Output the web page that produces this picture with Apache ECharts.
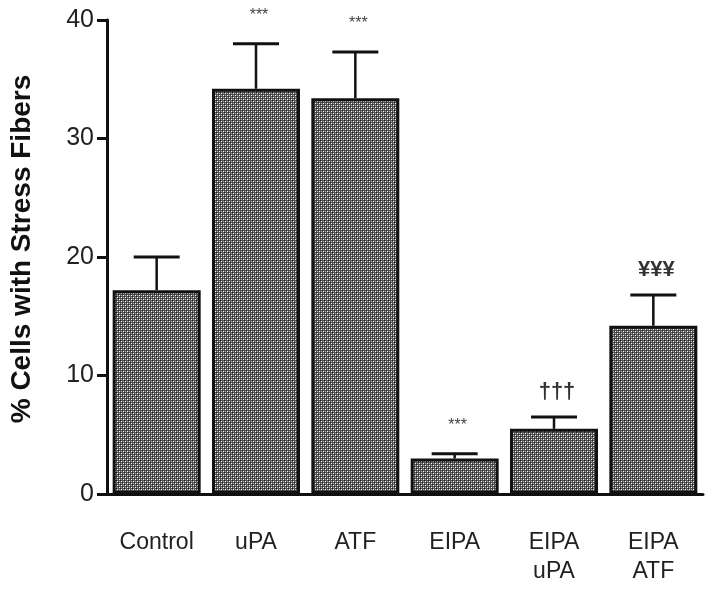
<!DOCTYPE html>
<html>
<head>
<meta charset="utf-8">
<script src="https://cdn.jsdelivr.net/npm/echarts@6/dist/echarts.min.js"></script>
<style>
  html, body { margin: 0; padding: 0; background: #fff; }
  #chart { width: 714px; height: 590px; }
</style>
</head>
<body>
<div id="chart"></div>
<script>
// Chart data
var categories = ['Control', 'uPA', 'ATF', 'EIPA', 'EIPA\nuPA', 'EIPA\nATF'];
var means = [17.2, 34.2, 33.4, 3.0, 5.5, 14.2];
var errors = [2.8, 3.8, 3.9, 0.4, 1.0, 2.6];
var marks = ['', '***', '***', '***', '†††', '¥¥¥'];
var yTicks = [0, 10, 20, 30, 40];

var FONT = "'Liberation Sans', Arial, sans-serif";

// Dotted crosshatch fill used by the bars
function makePattern() {
    var c = document.createElement('canvas');
    c.width = 4;
    c.height = 4;
    var ctx = c.getContext('2d');
    ctx.fillStyle = '#555';
    ctx.fillRect(0, 0, 4, 4);
    ctx.fillStyle = '#222';
    ctx.fillRect(0, 0, 1, 1);
    ctx.fillRect(2, 2, 1, 1);
    ctx.fillStyle = '#a8a8a8';
    ctx.fillRect(3, 1, 1, 1);
    ctx.fillRect(1, 3, 1, 1);
    ctx.fillStyle = '#fff';
    ctx.fillRect(1, 1, 1, 1);
    ctx.fillRect(3, 3, 1, 1);
    return c;
}

var chartDom = document.getElementById('chart');
var chart = echarts.init(chartDom, null, {renderer: 'canvas'});

var errData = means.map(function (m, i) { return [i, m, errors[i]]; });

var option = {
    animation: false,
    grid: {left: 102, right: 11, top: 20, bottom: 96},
    xAxis: {
        type: 'category',
        data: categories,
        axisLine: {lineStyle: {color: '#111', width: 3}},
        axisTick: {alignWithLabel: true, length: 10, lineStyle: {color: '#111', width: 3}},
        axisLabel: {
            margin: 34,
            fontFamily: FONT,
            fontSize: 23,
            lineHeight: 29,
            color: '#222'
        }
    },
    yAxis: {
        type: 'value',
        min: yTicks[0],
        max: yTicks[yTicks.length - 1],
        interval: 10,
        splitLine: {show: false},
        axisLine: {show: true, lineStyle: {color: '#111', width: 3}},
        axisTick: {show: true, length: 10, lineStyle: {color: '#111', width: 3}},
        axisLabel: {margin: 13, fontFamily: FONT, fontSize: 25, color: '#222'},
        name: '% Cells with Stress Fibers',
        nameLocation: 'middle',
        nameGap: 71,
        nameTextStyle: {
            fontFamily: FONT, fontSize: 28, fontWeight: 'bold', color: '#111',
            padding: [0, 0, 0, 16]
        }
    },
    series: [
        {
            type: 'bar',
            data: means,
            barWidth: 88,
            itemStyle: {
                color: {image: makePattern(), repeat: 'repeat'},
                borderColor: '#111',
                borderWidth: 3
            }
        },
        {
            type: 'custom',
            data: errData,
            z: 5,
            renderItem: function (params, api) {
                var base = api.coord([api.value(0), api.value(1)]);
                var top = api.coord([api.value(0), api.value(1) + api.value(2)]);
                var half = 23;
                var children = [
                    {type: 'line', shape: {x1: base[0], y1: base[1], x2: top[0], y2: top[1]},
                     style: {stroke: '#111', lineWidth: 2.5}},
                    {type: 'line', shape: {x1: top[0] - half, y1: top[1], x2: top[0] + half, y2: top[1]},
                     style: {stroke: '#111', lineWidth: 3}}
                ];
                var m = marks[params.dataIndex];
                if (m) {
                    var isStar = m.charAt(0) === '*';
                    children.push({
                        type: 'text',
                        style: {
                            text: m,
                            x: top[0] + 3,
                            y: top[1] - (isStar ? 28 : 25),
                            align: 'center',
                            verticalAlign: 'middle',
                            font: (isStar ? 'normal 16px ' : 'bold 22px ') + FONT,
                            fill: isStar ? '#444' : '#333'
                        }
                    });
                }
                return {type: 'group', children: children};
            }
        }
    ]
};

option && chart.setOption(option);
</script>
</body>
</html>
